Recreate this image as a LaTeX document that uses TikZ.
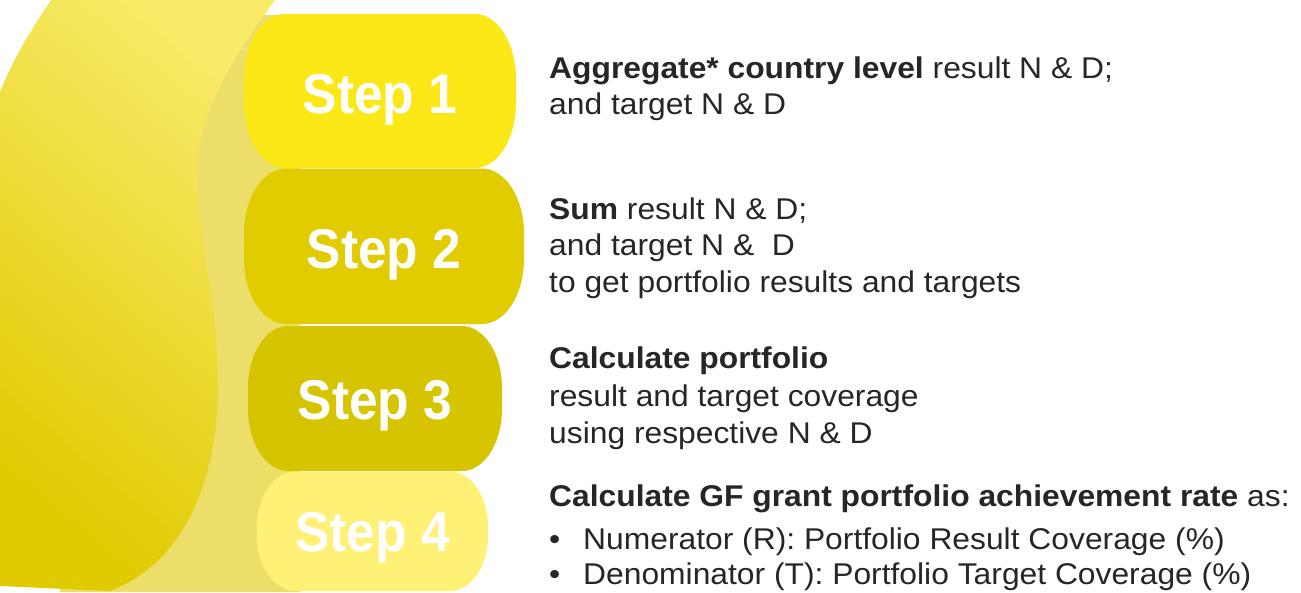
\documentclass[tikz,border=0pt]{standalone}
\usepackage{fontspec}
\setmainfont{Liberation Sans}
\newfontfamily\bodyf[FakeStretch=1.06]{Liberation Sans}
\newfontfamily\labf[FakeStretch=0.92]{Liberation Sans}
\definecolor{sone}{HTML}{FDE817}
\definecolor{stwo}{HTML}{E0CC00}
\definecolor{sthree}{HTML}{D7C400}
\definecolor{sfour}{HTML}{FFF176}
\definecolor{behind}{HTML}{EBDF6A}
\definecolor{frontdark}{HTML}{E0CA00}
\definecolor{frontmid}{HTML}{EEDA36}
\definecolor{frontlight}{HTML}{F9EA68}
\definecolor{txtc}{HTML}{262626}
\newcommand\ybox[7]{%
 \fill[#7] (#1,#2+#6)
  .. controls (#1,#2+0.448*#6) and (#1+0.448*#5,#2) .. (#1+#5,#2)
  -- (#3-#5,#2)
  .. controls (#3-0.448*#5,#2) and (#3,#2+0.448*#6) .. (#3,#2+#6)
  -- (#3,#4-#6)
  .. controls (#3,#4-0.448*#6) and (#3-0.448*#5,#4) .. (#3-#5,#4)
  -- (#1+#5,#4)
  .. controls (#1+0.448*#5,#4) and (#1,#4-0.448*#6) .. (#1,#4-#6)
  -- cycle;}
\tikzset{
  txt/.style={inner sep=0pt, anchor=base west, text=txtc, font=\bodyf\fontsize{30}{36}\selectfont},
  lab/.style={inner sep=0pt, anchor=base, text=white, font=\labf\bfseries\fontsize{56}{60}\selectfont}
}
\begin{document}
\begin{tikzpicture}[x=1pt,y=-1pt]
\useasboundingbox (0,0) rectangle (1301,592);
\fill[white] (0,0) rectangle (1301,592);
% shape behind
\fill[behind] (263,15) -- (300,15) -- (300,592) -- (60,592) -- (120,200) -- cycle;
% front shape with gradient
\shade[top color=frontlight, middle color=frontmid, bottom color=frontdark, shading angle=-40]
  (0,92) .. controls (15,55) and (33,27) .. (51,0) -- (275,0)
  .. controls (235,55) and (200,110) .. (197,165)
  .. controls (195,230) and (217,290) .. (218,380)
  .. controls (219,470) and (190,560) .. (110,591)
  -- (0,586) -- cycle;
% step boxes
\ybox{244}{14}{516}{168}{41}{65}{sone}
\ybox{244}{168.5}{524}{324}{42}{65}{stwo}
\ybox{248}{326}{502}{471}{40}{62}{sthree}
\ybox{257}{471.5}{488}{591}{38}{55}{sfour}
% step labels
\node[lab] (s1) at (380,113) {Step 1};
\node[lab] (s2) at (384,268.5) {Step 2};
\node[lab] (s3) at (375,419.5) {Step 3};
\node[lab] (s4) at (372.5,551.5) {Step 4};
% descriptions
\node[txt] (t1a) at (549,78) {\textbf{Aggregate* country level} result N \& D;};
\node[txt] (t1b) at (549,114.5) {and target N \& D};
\node[txt] (t2a) at (549,219) {\textbf{Sum} result N \& D;};
\node[txt] (t2b) at (549,255.5) {and target N \&~~D};
\node[txt] (t2c) at (549,292) {to get portfolio results and targets};
\node[txt] (t3a) at (549,368.5) {\textbf{Calculate portfolio}};
\node[txt] (t3b) at (549,406) {result and target coverage};
\node[txt] (t3c) at (549,443) {using respective N \& D};
\node[txt] (t4a) at (549,506.5) {\textbf{Calculate GF grant portfolio achievement rate} as:};
\node[txt] (b1) at (549,549) {\textbullet};
\node[txt] (t4b) at (583,549) {Numerator (R): Portfolio Result Coverage (\%)};
\node[txt] (b2) at (549,584) {\textbullet};
\node[txt] (t4c) at (583,584) {Denominator (T): Portfolio Target Coverage (\%)};
\end{tikzpicture}
\end{document}
